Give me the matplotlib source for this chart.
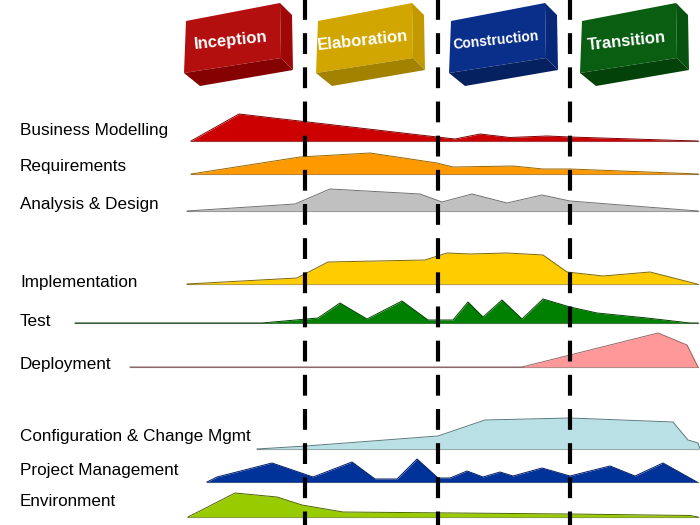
import matplotlib.pyplot as plt
from matplotlib.patches import Polygon

# Phases (boxes along the top) and phase boundaries
phases = ["Inception", "Elaboration", "Construction", "Transition"]
phase_left = [184, 316, 449, 580]
phase_size = [12, 12, 10, 12]
phase_front = ["#b30f0f", "#d1a600", "#0a2f8a", "#0a5e12"]
phase_side = ["#a00808", "#c29a00", "#072878", "#07520e"]
phase_bottom = ["#860202", "#a38200", "#05215f", "#034208"]
boundaries = [305, 438, 570]

# Disciplines: label, time positions, effort heights
disciplines = [
    "Business Modelling", "Requirements", "Analysis & Design",
    "Implementation", "Test", "Deployment",
    "Configuration & Change Mgmt", "Project Management", "Environment",
]

bm_x = [191, 239, 437, 455, 480, 510, 547, 570, 680, 698]
bm_h = [0, 27, 4, 2, 7, 3.5, 5, 4, 0.5, 0]

req_x = [191, 300, 370, 437, 453, 513, 543, 570, 673, 698]
req_h = [0, 17, 21, 11, 7, 8, 5, 5, 1, 0]

ad_x = [187, 295, 330, 420, 442, 472, 507, 542, 570, 698]
ad_h = [0, 7, 22, 17, 9, 17, 8, 16, 10, 0]

impl_x = [187, 297, 328, 425, 447, 470, 507, 543, 567, 603, 650, 697]
impl_h = [0, 6, 22, 24, 31, 30, 31, 29, 12, 8, 12, 0]

test_x = [75, 262, 318, 340, 367, 402, 428, 453, 468, 483, 502, 522,
          543, 570, 597, 647, 690, 698]
test_h = [0, 0, 5, 20, 4, 22, 3, 3, 21, 6, 23, 4, 24, 16, 10, 5, 0, 0]

dep_x = [130, 522, 658, 687, 698]
dep_h = [0, 0, 34, 22, 0]

cm_x = [257, 306, 438, 485, 570, 673, 688, 698, 700]
cm_h = [0, 3, 13, 29, 31, 27, 9, 6, 0]

pm_x = [207, 217, 272, 313, 352, 375, 397, 417, 438, 450, 467, 483, 500,
        513, 542, 570, 610, 635, 663, 697]
pm_h = [0, 5, 19, 5, 20, 3, 3, 23, 4, 4, 11, 5, 10, 6, 14, 6, 16, 6, 19, 0]

env_x = [188, 235, 277, 302, 343, 570, 690, 698]
env_h = [0, 24, 20, 12, 5, 3, 1.5, 0]

profiles_x = [bm_x, req_x, ad_x, impl_x, test_x, dep_x, cm_x, pm_x, env_x]
profiles_h = [bm_h, req_h, ad_h, impl_h, test_h, dep_h, cm_h, pm_h, env_h]

baselines = [141, 174, 211, 284, 323, 367, 449, 482, 517]
label_y = [130, 166, 205, 282, 321, 365, 437, 470, 502]
fills = ["#cc0000", "#ff9900", "#c0c0c0", "#ffcc00", "#008000",
         "#ff9999", "#b9e0e4", "#003399", "#99cc00"]
edges = ["#800000", "#996600", "#707070", "#806600", "#004000",
         "#996060", "#5a7a80", "#001a66", "#4d6600"]

fig = plt.figure(figsize=(7, 5.25), dpi=100)
ax = fig.add_axes([0, 0, 1, 1])
ax.set_xlim(0, 700)
ax.set_ylim(525, 0)
ax.axis("off")

font = ["Liberation Sans", "DejaVu Sans"]

for name, xs, hs, base, ly, fc, ec in zip(disciplines, profiles_x, profiles_h,
                                          baselines, label_y, fills, edges):
    top = [base - h for h in hs]
    ax.plot([xs[0], 698], [base, base], color="#777777", lw=0.8, zorder=1)
    ax.fill_between(xs, [base] * len(xs), top, color=fc, lw=0, zorder=2)
    ax.plot(xs, top, color=ec, lw=0.7, zorder=3)
    ax.text(20, ly, name, fontsize=12.3, family=font, va="center", ha="left")

# phase boxes
front = [(2, 21), (96, 3), (97, 58), (0, 73)]
side = [(96, 3), (108, 15), (109, 70), (97, 58)]
bottom = [(0, 73), (97, 58), (109, 70), (16, 86)]
for name, x0, fs, fc, sc, bc in zip(phases, phase_left, phase_size,
                                    phase_front, phase_side, phase_bottom):
    for shape, col in ((front, fc), (side, sc), (bottom, bc)):
        ax.add_patch(Polygon([(x0 + px, py) for px, py in shape],
                             closed=True, fc=col, ec="none", zorder=5))
    ax.text(x0 + 47, 41, name, fontsize=fs, family=font, weight="bold",
            color="white", rotation=6, ha="center", va="center", zorder=6)

# phase boundaries
for bx in boundaries:
    ax.plot([bx, bx], [-3, 525], color="black", lw=3,
            linestyle=(0, (5, 3.2)), zorder=7)

fig.savefig("out.png", dpi=100)
